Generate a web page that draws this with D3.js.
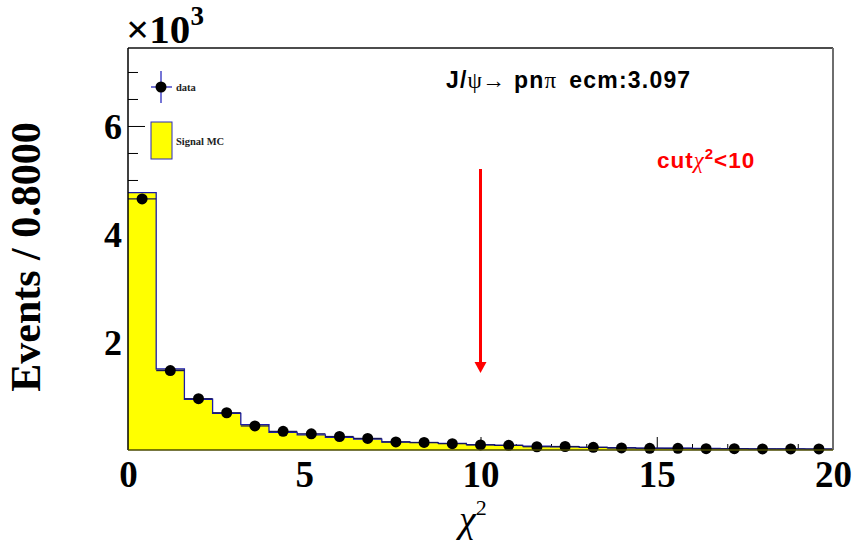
<!DOCTYPE html>
<html lang="en">
<head>
<meta charset="utf-8">
<title>chi2 distribution</title>
<script src="https://cdn.jsdelivr.net/npm/d3@7"></script>
<style>
  body { margin: 0; background: #fff; }
</style>
</head>
<body>
<svg id="chart" width="854" height="543" font-family="Liberation Serif, Times New Roman, serif"></svg>
<script>
// histogram binning: 25 bins of width 0.8 between 0 and 20
var binWidth = 0.8;
var xRange = [0, 20];

// events per bin
var dataCounts = [4650, 1470, 950, 690, 445, 345, 300, 250, 215, 150, 140, 117, 93, 87, 60,
                  65, 50, 38, 32, 31, 25, 24, 20, 20, 19];
var mcCounts   = [4765, 1500, 940, 680, 470, 325, 280, 235, 200, 148, 135, 122, 100, 85, 70,
                  60, 50, 42, 36, 32, 28, 25, 22, 20, 18];

var xMajorTicks = [0, 5, 10, 15, 20];
var xMinorTicks = [1, 2, 3, 4, 6, 7, 8, 9, 11, 12, 13, 14, 16, 17, 18, 19];
var yMajorTicks = [2000, 4000, 6000];
var yMinorTicks = [500, 1000, 1500, 2500, 3000, 3500, 4500, 5000, 5500, 6500, 7000];
var yMax = 7444;
var cutValue = 10;

var svg = d3.select("#chart");
var padL = 128, padR = 833, padT = 48, padB = 450;

var x = d3.scaleLinear().domain(xRange).range([padL, padR]);
var y = d3.scaleLinear().domain([0, yMax]).range([padB, padT]);

var bins = mcCounts.map(function(v, i) {
  return { lo: i * binWidth, hi: (i + 1) * binWidth, mc: v, data: dataCounts[i] };
});

function plainTicks(g) {
  g.select(".domain").remove();
  g.selectAll("line").attr("stroke", "#000");
}

// ticks first, the filled histogram covers them
svg.append("g").attr("transform", "translate(" + padL + ",0)")
  .call(d3.axisRight(y).tickValues(yMinorTicks).tickSize(10).tickFormat(""))
  .call(plainTicks);
svg.append("g").attr("transform", "translate(" + padL + ",0)")
  .call(d3.axisRight(y).tickValues(yMajorTicks).tickSize(17).tickFormat(""))
  .call(plainTicks);
svg.append("g").attr("transform", "translate(0," + padB + ")")
  .call(d3.axisTop(x).tickValues(xMinorTicks).tickSize(6).tickFormat(""))
  .call(plainTicks);
svg.append("g").attr("transform", "translate(0," + padB + ")")
  .call(d3.axisTop(x).tickValues(xMajorTicks).tickSize(13).tickFormat(""))
  .call(plainTicks);

// MC histogram
var stepPts = [[x(0), y(0)]];
bins.forEach(function(b) {
  stepPts.push([x(b.lo), y(b.mc)]);
  stepPts.push([x(b.hi), y(b.mc)]);
});
stepPts.push([x(xRange[1]), y(0)]);

svg.append("path")
  .attr("d", d3.line()(stepPts) + "Z")
  .attr("fill", "#ffff00")
  .attr("stroke", "none");
svg.append("path")
  .attr("d", d3.line()(stepPts.slice(1, -1)))
  .attr("fill", "none")
  .attr("stroke", "#1c1ca8")
  .attr("stroke-width", 1.3);

// data: x error bars across the bin, y error bars, markers
var pts = svg.append("g");
pts.selectAll("line.xerr").data(bins).enter().append("line")
  .attr("class", "xerr")
  .attr("x1", function(d) { return x(d.lo); })
  .attr("x2", function(d) { return x(d.hi); })
  .attr("y1", function(d) { return y(d.data); })
  .attr("y2", function(d) { return y(d.data); })
  .attr("stroke", "#15155a").attr("stroke-width", 1.2);
pts.selectAll("line.yerr").data(bins).enter().append("line")
  .attr("class", "yerr")
  .attr("x1", function(d) { return x((d.lo + d.hi) / 2); })
  .attr("x2", function(d) { return x((d.lo + d.hi) / 2); })
  .attr("y1", function(d) { return y(d.data + Math.sqrt(d.data)); })
  .attr("y2", function(d) { return y(d.data - Math.sqrt(d.data)); })
  .attr("stroke", "#15155a").attr("stroke-width", 1.2);
pts.selectAll("circle").data(bins).enter().append("circle")
  .attr("cx", function(d) { return x((d.lo + d.hi) / 2); })
  .attr("cy", function(d) { return y(d.data); })
  .attr("r", 5.5)
  .attr("fill", "#000");

// frame
svg.append("line").attr("x1", padL).attr("x2", padR).attr("y1", padT).attr("y2", padT)
  .attr("stroke", "#111").attr("stroke-width", 1.5);
svg.append("line").attr("x1", padR).attr("x2", padR).attr("y1", padT).attr("y2", padB)
  .attr("stroke", "#6e6e6e").attr("stroke-width", 2);
svg.append("line").attr("x1", padL).attr("x2", padL).attr("y1", padT).attr("y2", padB)
  .attr("stroke", "#000").attr("stroke-width", 1.5);
svg.append("line").attr("x1", padL).attr("x2", padR).attr("y1", padB).attr("y2", padB)
  .attr("stroke", "#4a4a00").attr("stroke-width", 1.5);

// tick labels
svg.append("g").attr("transform", "translate(" + padL + ",0)")
  .call(d3.axisLeft(y).tickValues(yMajorTicks).tickSize(0).tickPadding(6)
    .tickFormat(function(d) { return d / 1000; }))
  .call(function(g) {
    g.select(".domain").remove();
    g.attr("font-family", null);
    g.selectAll("text").attr("font-weight", "bold")
      .attr("font-size", 36).attr("fill", "#000").attr("dy", "0.34em");
  });
svg.append("g").attr("transform", "translate(0," + padB + ")")
  .call(d3.axisBottom(x).tickValues(xMajorTicks).tickSize(0))
  .call(function(g) {
    g.select(".domain").remove();
    g.attr("font-family", null);
    g.selectAll("text").attr("font-weight", "bold")
      .attr("font-size", 37).attr("fill", "#000").attr("y", 37).attr("dy", 0);
  });

// exponent
svg.append("text").attr("x", 126).attr("y", 43)
  .attr("font-size", 41).attr("font-weight", "bold")
  .text("\u00d710")
  .append("tspan").attr("font-size", 27).attr("dy", -18).text("3");

// axis titles
svg.append("text")
  .attr("transform", "translate(40,257) rotate(-90)")
  .attr("text-anchor", "middle")
  .attr("font-size", 42).attr("font-weight", "bold")
  .text("Events / 0.8000");
var xTitle = svg.append("text").attr("x", 459).attr("y", 532).attr("font-size", 38);
xTitle.append("tspan").attr("font-style", "italic").text("\u03c7");
xTitle.append("tspan").attr("font-size", 22).attr("dy", -17).text("2");

// title
var title = svg.append("text").attr("x", 446).attr("y", 88)
  .attr("font-family", "Liberation Sans, Arial, sans-serif").attr("font-weight", "bold")
  .attr("font-size", 23).attr("letter-spacing", 1.2).attr("fill", "#000");
title.append("tspan").text("J/");
title.append("tspan").attr("font-family", "Liberation Serif").attr("font-weight", "normal")
  .attr("letter-spacing", 0).text("\u03c8\u2192");
title.append("tspan").attr("dx", 9).text("pn");
title.append("tspan").attr("font-family", "Liberation Serif").attr("font-weight", "normal").text("\u03c0");
title.append("tspan").attr("dx", 12).text("ecm:3.097");

// cut annotation
var cutLabel = svg.append("text").attr("x", 657).attr("y", 168)
  .attr("font-family", "Liberation Sans, Arial, sans-serif").attr("font-weight", "bold")
  .attr("font-size", 22.5).attr("letter-spacing", 1).attr("fill", "#ff0000");
cutLabel.append("tspan").text("cut");
cutLabel.append("tspan").attr("font-family", "Liberation Serif").attr("font-weight", "normal")
  .attr("font-style", "italic").text("\u03c7");
cutLabel.append("tspan").attr("font-size", 15).attr("dy", -9).text("2");
cutLabel.append("tspan").attr("dy", 9).text("<10");

svg.append("line")
  .attr("x1", x(cutValue)).attr("x2", x(cutValue))
  .attr("y1", 169).attr("y2", 363)
  .attr("stroke", "#ff0000").attr("stroke-width", 3);
svg.append("path")
  .attr("d", "M" + (x(cutValue) - 6) + ",362 L" + (x(cutValue) + 6) + ",362 L" + x(cutValue) + ",373 Z")
  .attr("fill", "#ff0000");

// legend
var lg = svg.append("g");
lg.append("line").attr("x1", 151).attr("x2", 172).attr("y1", 87).attr("y2", 87)
  .attr("stroke", "#2b2bc0").attr("stroke-width", 1.3);
lg.append("line").attr("x1", 161).attr("x2", 161).attr("y1", 71).attr("y2", 103)
  .attr("stroke", "#2b2bc0").attr("stroke-width", 1.3);
lg.append("circle").attr("cx", 161).attr("cy", 87).attr("r", 5.5).attr("fill", "#000");
lg.append("text").attr("x", 176).attr("y", 91)
  .attr("font-size", 10.5).attr("font-weight", "bold").attr("fill", "#222").text("data");
lg.append("rect").attr("x", 151).attr("y", 122).attr("width", 21).attr("height", 37)
  .attr("fill", "#ffff00").attr("stroke", "#2b2bc0").attr("stroke-width", 1);
lg.append("text").attr("x", 176).attr("y", 145)
  .attr("font-size", 10.5).attr("font-weight", "bold").attr("fill", "#222").text("Signal MC");
</script>
</body>
</html>
